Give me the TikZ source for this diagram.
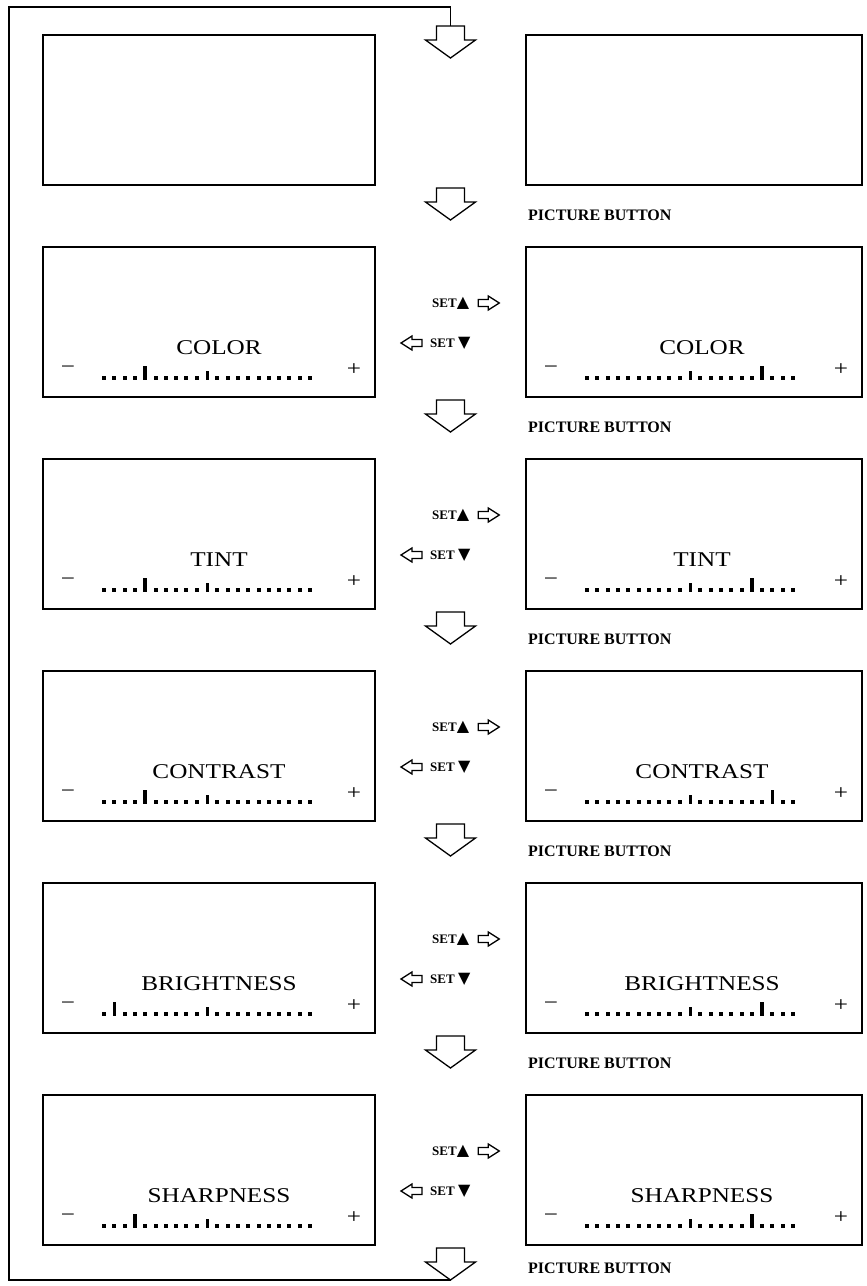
\documentclass[tikz,border=0pt]{standalone}
\usepackage{fontspec}
\setmainfont{Liberation Serif}
\newfontfamily\lcdfont[FakeStretch=1.2]{Liberation Serif}
\newfontfamily\symfont{DejaVu Sans}
\usetikzlibrary{positioning,calc}

% one screen: #1 box, #2 title, #3 position of the set mark
\newcommand\screen[3]{%
  \node[lcd] (#1-t) at ($(#1.south west)+(176,49)$) {#2};
  \node[sign] (#1-m) at ($(#1.south west)+(25,27)$) {−};
  \node[sign] (#1-p) at ($(#1.south east)+(-21,27)$) {+};
  \foreach \i in {0,...,20}{%
    \pgfmathsetmacro\tkh{\i==#3 ? 14 : (\i==10 ? 9 : 4.5)}%
    \pgfmathsetmacro\tkw{\i==#3 ? 3.6 : (\i==10 ? 3 : 4)}%
    \fill ($(#1.south west)+(61+\i*10.3-\tkw/2,17)$) rectangle ++(\tkw,\tkh);
  }%
}

\begin{document}
\begin{tikzpicture}[
    x=1pt, y=1pt,
    screen/.style={draw, line width=1.6pt, minimum height=150pt, outer sep=0pt, inner sep=0pt},
    lscr/.style={screen, minimum width=332pt},
    rscr/.style={screen, minimum width=336pt},
    lcd/.style={font=\fontsize{21}{24}\lcdfont, inner sep=0pt},
    sign/.style={font=\fontsize{21}{24}\lcdfont, inner sep=0pt},
    btn/.style={font=\fontsize{16}{18}\selectfont\bfseries, inner sep=0pt, anchor=west},
    setl/.style={font=\fontsize{13}{15}\selectfont\bfseries, inner sep=0pt, anchor=west},
    hollow/.style={draw, line width=1.3pt, line join=miter},
    loopline/.style={line width=1.5pt},
    downarr/.pic={\draw[hollow] (-14,0) -- (14,0) -- (14,-14) -- (25,-14) -- (0,-32)
      -- (-25,-14) -- (-14,-14) -- cycle;},
    rarr/.pic={\draw[hollow] (0,3.5) -- (10,3.5) -- (10,7) -- (21,0) -- (10,-7)
      -- (10,-3.5) -- (0,-3.5) -- cycle;},
    larr/.pic={\draw[hollow] (0,3.5) -- (-10,3.5) -- (-10,7) -- (-21,0) -- (-10,-7)
      -- (-10,-3.5) -- (0,-3.5) -- cycle;},
  ]
  \useasboundingbox (0,0) rectangle (867,-1286);
  % screens
  \node[lscr] (l0) at (209,-110) {};
  \node[lscr, below=62pt of l0] (l1) {};
  \node[lscr, below=62pt of l1] (l2) {};
  \node[lscr, below=62pt of l2] (l3) {};
  \node[lscr, below=62pt of l3] (l4) {};
  \node[lscr, below=62pt of l4] (l5) {};
  \node[rscr, right=151pt of l0] (r0) {};
  \node[rscr, right=151pt of l1] (r1) {};
  \node[rscr, right=151pt of l2] (r2) {};
  \node[rscr, right=151pt of l3] (r3) {};
  \node[rscr, right=151pt of l4] (r4) {};
  \node[rscr, right=151pt of l5] (r5) {};
  \screen{l1}{COLOR}{4}      \screen{r1}{COLOR}{17}
  \screen{l2}{TINT}{4}       \screen{r2}{TINT}{16}
  \screen{l3}{CONTRAST}{4}   \screen{r3}{CONTRAST}{18}
  \screen{l4}{BRIGHTNESS}{1} \screen{r4}{BRIGHTNESS}{17}
  \screen{l5}{SHARPNESS}{3}  \screen{r5}{SHARPNESS}{16}
  % picture button steps
  \coordinate (loopin) at ($(l0.north east)!0.5!(r0.north west)+(0,9)$);
  \pic at (loopin) {downarr};
  \foreach \n in {0,...,5}{
    \pic at ($(l\n.south east)!0.5!(r\n.south west)+(0,-3)$) {downarr};
  }
  \coordinate (loopout) at ($(l5.south east)!0.5!(r5.south west)+(0,-35)$);
  \node[btn] (pb0) at ($(r0.south west)+(2,-30)$) {PICTURE BUTTON};
  \node[btn] (pb1) at ($(r1.south west)+(2,-30)$) {PICTURE BUTTON};
  \node[btn] (pb2) at ($(r2.south west)+(2,-30)$) {PICTURE BUTTON};
  \node[btn] (pb3) at ($(r3.south west)+(2,-30)$) {PICTURE BUTTON};
  \node[btn] (pb4) at ($(r4.south west)+(2,-30)$) {PICTURE BUTTON};
  \node[btn] (pb5) at ($(r5.south west)+(2,-23)$) {PICTURE BUTTON};
  % set up / set down
  \foreach \n in {1,...,5}{
    \node[setl] (su\n) at ($(l\n.north east)+(57,-56)$) {SET{\fontsize{16}{16}\symfont ▲}};
    \pic at ($(su\n.east)+(9,0)$) {rarr};
    \node[setl] (sd\n) at ($(l\n.north east)+(55,-96)$) {SET {\fontsize{16}{16}\symfont ▼}};
    \pic at ($(sd\n.west)+(-8,0)$) {larr};
  }
  % back to the start
  \draw[loopline] (loopout) -| (9,-7) -| (loopin);
\end{tikzpicture}
\end{document}
